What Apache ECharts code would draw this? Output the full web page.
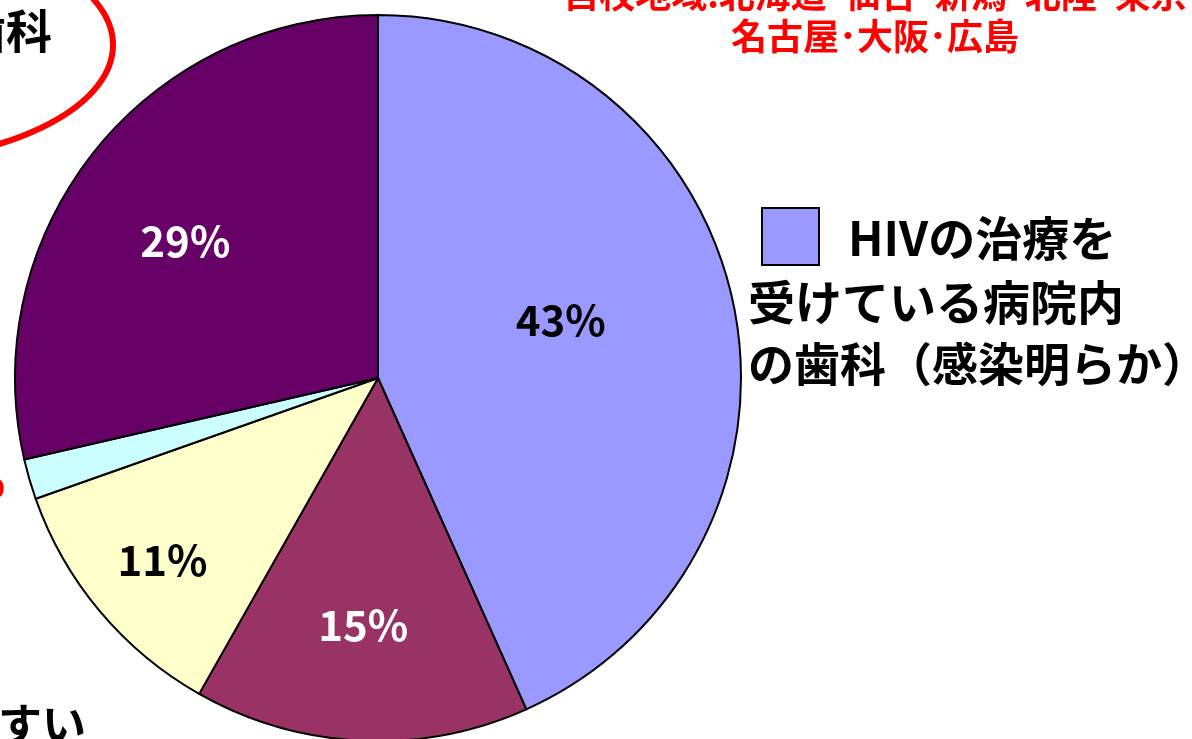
<!DOCTYPE html>
<html>
<head>
<meta charset="utf-8">
<script src="https://cdn.jsdelivr.net/npm/echarts@6/dist/echarts.min.js"></script>
<style>
  html, body { margin: 0; padding: 0; background: #fff; }
  #chart { width: 1192px; height: 739px; }
</style>
</head>
<body>
<div id="chart"></div>
<script>
// slices, clockwise from 12 o'clock
const sliceNames = ['HIVの治療を受けている病院内の歯科（感染明らか）', '区分2', '区分3', '区分4', '区分5'];
const sliceValues = [43.3, 14.9, 11.4, 1.8, 28.6];
const sliceColors = ['#9999FF', '#993366', '#FFFFCC', '#CCFFFF', '#660066'];
const labelColors = ['#000', '#fff', '#000', '#000', '#fff'];
const labelShown = [true, true, true, false, true];

const legendLines = ['HIVの治療を', '受けている病院内', 'の歯科（感染明らか）'];
const redLines = ['自校地域:北海道･仙台･新潟･北陸･東京', '名古屋･大阪･広島'];

const pieCenter = [378, 378];
const labelRadius = [0.52, 0.68, 0.78, 0.5, 0.65]; // fraction of radius
const labelNudge = [[-5, -18], [-3, -4], [5, -3], [0, 0], [-5, 12]];

const chart = echarts.init(document.getElementById('chart'));

const jp = '"Noto Sans CJK JP", sans-serif';

chart.setOption({
    animation: false,
    backgroundColor: '#fff',
    series: [{
        type: 'pie',
        center: pieCenter,
        radius: 363,
        startAngle: 90,
        clockwise: true,
        avoidLabelOverlap: false,
        itemStyle: { borderColor: '#000', borderWidth: 2 },
        label: {
            position: 'inside',
            fontFamily: jp,
            fontWeight: 'bold',
            fontSize: 42,
            formatter: p => Math.round(p.percent) + '%'
        },
        labelLine: { show: false },
        labelLayout: function (params) {
            const i = params.dataIndex;
            const r = params.labelRect;
            const x = r.x + r.width / 2, y = r.y + r.height / 2;
            const k = labelRadius[i] / 0.5 - 1;
            return {
                dx: (x - pieCenter[0]) * k + labelNudge[i][0],
                dy: (y - pieCenter[1]) * k + labelNudge[i][1]
            };
        },
        emphasis: { disabled: true },
        data: sliceValues.map((v, i) => ({
            name: sliceNames[i],
            value: v,
            itemStyle: { color: sliceColors[i] },
            label: { show: labelShown[i], color: labelColors[i] }
        }))
    }],
    graphic: [
        // legend
        { type: 'rect', shape: { x: 762, y: 208, width: 57, height: 57 },
          style: { fill: '#9999FF', stroke: '#000', lineWidth: 2 } },
        { type: 'text', x: 848, y: 238,
          style: { text: legendLines[0], font: 'bold 47px ' + jp, fill: '#000', textVerticalAlign: 'middle' } },
        { type: 'text', x: 748, y: 302,
          style: { text: legendLines[1], font: 'bold 47px ' + jp, fill: '#000', textVerticalAlign: 'middle' } },
        { type: 'text', x: 748, y: 364,
          style: { text: legendLines[2], font: 'bold 46px ' + jp, fill: '#000', textVerticalAlign: 'middle' } },
        // red title (cropped)
        { type: 'text', x: 875, y: -6,
          style: { text: redLines[0], font: 'bold 36px ' + jp, fill: '#f00', textAlign: 'center', textVerticalAlign: 'middle' } },
        { type: 'text', x: 875, y: 36,
          style: { text: redLines[1], font: 'bold 36px ' + jp, fill: '#f00', textAlign: 'center', textVerticalAlign: 'middle' } },
        // cropped side texts
        { type: 'ellipse', shape: { cx: -137, cy: 45, rx: 250, ry: 118 },
          style: { fill: 'none', stroke: '#f00', lineWidth: 6 } },
        { type: 'text', x: 52, y: 31,
          style: { text: '歯科', font: 'bold 46px ' + jp, fill: '#000', textAlign: 'right', textVerticalAlign: 'middle' } },
        { type: 'text', x: 5, y: 482,
          style: { text: '2%', font: 'bold 40px ' + jp, fill: '#f00', textAlign: 'right', textVerticalAlign: 'middle' } },
        { type: 'text', x: -2, y: 724,
          style: { text: 'すい', font: 'bold 44px ' + jp, fill: '#000', textVerticalAlign: 'middle' } }
    ]
});
</script>
</body>
</html>
